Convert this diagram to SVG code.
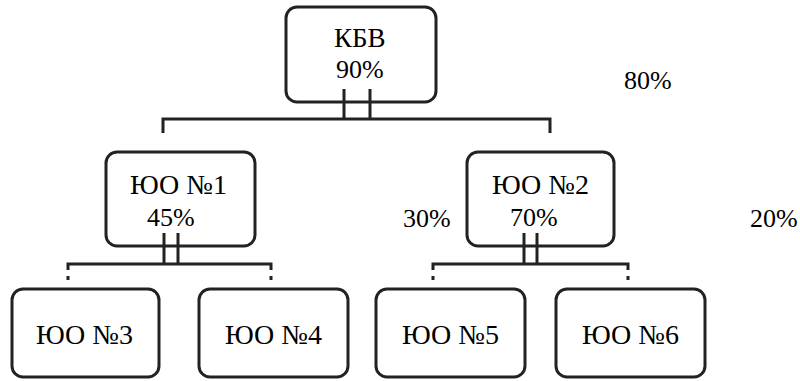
<svg xmlns="http://www.w3.org/2000/svg" width="800" height="381" viewBox="0 0 800 381">
<rect width="800" height="381" fill="#fff"/>
<g id="kbv"><rect x="286" y="7" width="150" height="95" rx="11" fill="#fff" stroke="#222" stroke-width="3"/><text x="334" y="47" font-family="Liberation Serif" font-size="27">КБВ</text><text x="336" y="78" font-family="Liberation Serif" font-size="26">90%</text></g>
<g id="yuo1"><rect x="106" y="152" width="149" height="94" rx="11" fill="#fff" stroke="#222" stroke-width="3"/><text x="130" y="194" font-family="Liberation Serif" font-size="28">ЮО №1</text><text x="147" y="226" font-family="Liberation Serif" font-size="26">45%</text></g>
<g id="yuo2"><rect x="467" y="152" width="147" height="94" rx="11" fill="#fff" stroke="#222" stroke-width="3"/><text x="492" y="194" font-family="Liberation Serif" font-size="28">ЮО №2</text><text x="510" y="226" font-family="Liberation Serif" font-size="26">70%</text></g>
<g id="yuo3"><rect x="12" y="289" width="147" height="88" rx="11" fill="#fff" stroke="#222" stroke-width="3"/><text x="36" y="344" font-family="Liberation Serif" font-size="28">ЮО №3</text></g>
<g id="yuo4"><rect x="199" y="289" width="149" height="88" rx="11" fill="#fff" stroke="#222" stroke-width="3"/><text x="225" y="344" font-family="Liberation Serif" font-size="28">ЮО №4</text></g>
<g id="yuo5"><rect x="376" y="289" width="149" height="88" rx="11" fill="#fff" stroke="#222" stroke-width="3"/><text x="402" y="344" font-family="Liberation Serif" font-size="28">ЮО №5</text></g>
<g id="yuo6"><rect x="556" y="289" width="149" height="88" rx="11" fill="#fff" stroke="#222" stroke-width="3"/><text x="582" y="344" font-family="Liberation Serif" font-size="28">ЮО №6</text></g>
<g id="labels"><text x="624" y="89" font-family="Liberation Serif" font-size="26">80%</text><text x="403" y="227" font-family="Liberation Serif" font-size="26">30%</text><text x="750" y="227" font-family="Liberation Serif" font-size="26">20%</text></g>
<g id="connectors">
<path fill="none" stroke="#222" stroke-width="3" d="M344,89V119M370,89V119M163,133V119H550V133"/>
<path fill="none" stroke="#222" stroke-width="3" d="M164,233V264M178,233V264M68,270V264H271V270"/>
<path fill="none" stroke="#222" stroke-width="3" d="M68,276V280M271,276V280"/>
<path fill="none" stroke="#222" stroke-width="3" d="M524,233V264M537,233V264M433,270V264H628V270"/>
<path fill="none" stroke="#222" stroke-width="3" d="M433,276V280M628,276V280"/>
</g>
</svg>
